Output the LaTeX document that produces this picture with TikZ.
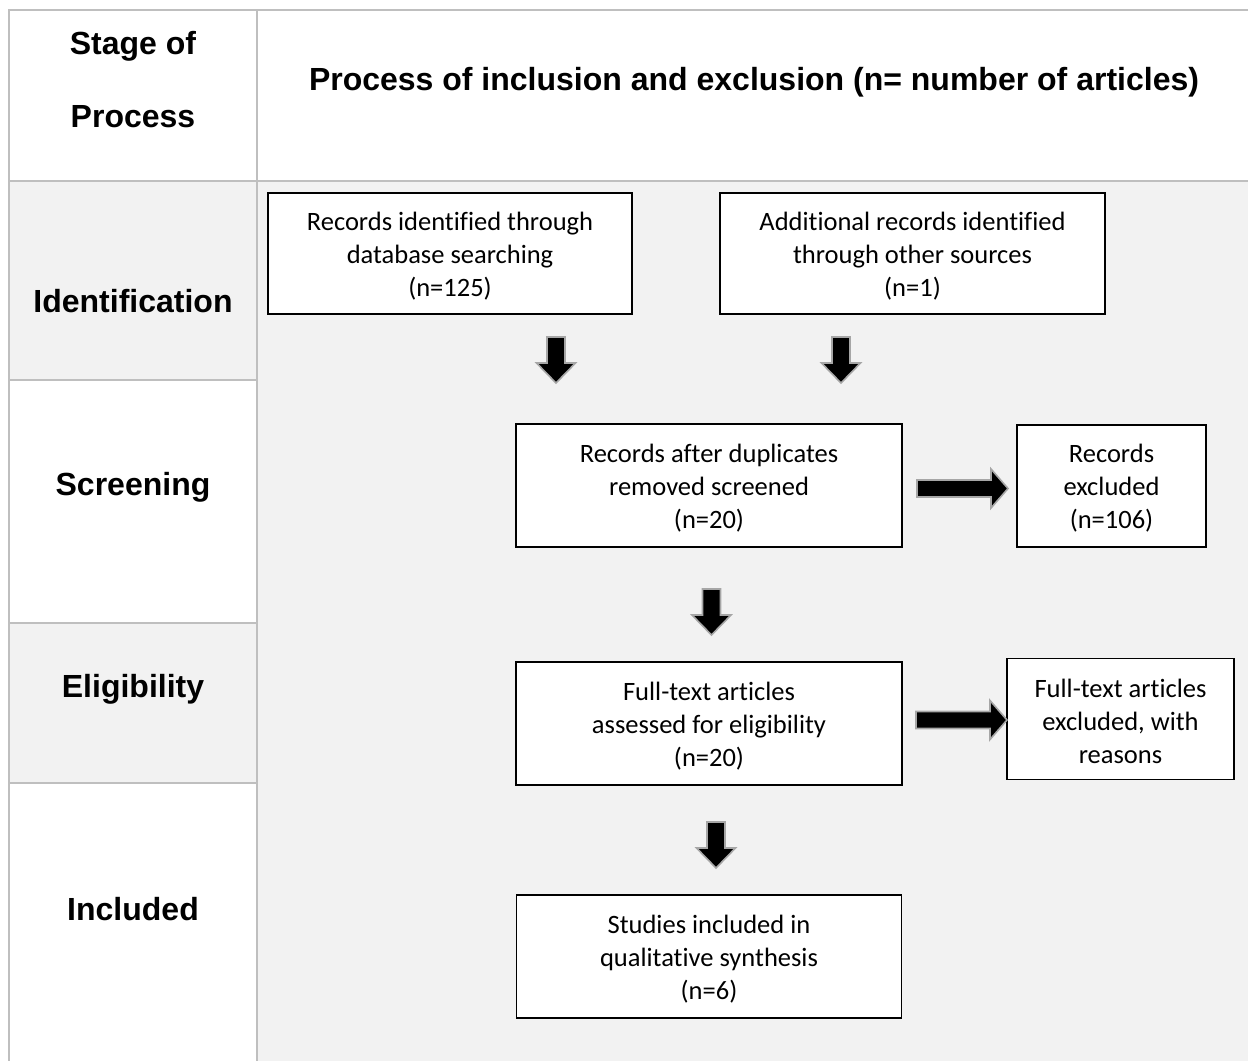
\documentclass[tikz,border=0pt]{standalone}
\usepackage{fontspec}
\setmainfont{Carlito}[Ligatures=NoCommon]
\newfontfamily\headfont{Liberation Sans}
\definecolor{rulegray}{HTML}{BFBFBF}
\definecolor{cellshade}{HTML}{F2F2F2}
\definecolor{arrowrim}{HTML}{A6A6A6}
% a boxed step of the flow: name, centre, width, height, text
\newcommand\flowstep[5]{%
  \node[flowbox,minimum width=#3,minimum height=#4,
        label={[flowtext]center:{#5}}] (#1) at (#2) {};}
\begin{document}
\begin{tikzpicture}[x=1pt,y=-1pt,
  gridline/.style={draw=rulegray,line width=2pt},
  stage/.style={font=\headfont\bfseries\fontsize{32}{38}\selectfont,align=center,inner sep=0pt},
  flowbox/.style={draw=black,fill=white,line width=1.6pt,inner sep=0pt},
  flowtext/.style={align=center,inner sep=0pt,yshift=-2.5pt,
    font=\fontsize{26.5}{33}\selectfont},
  blockarrow/.style={fill=black,draw=arrowrim,line width=1.6pt,line join=miter},
  pics/downarrow/.style={code={
    \path[blockarrow] (-9,0) -- (9,0) -- (9,26) -- (19.5,26) -- (0,46)
      -- (-19.5,26) -- (-9,26) -- cycle;}},
  pics/rightarrow/.style={code={
    \path[blockarrow] (0,-8.5) -- (74,-8.5) -- (74,-19.5) -- (91,0)
      -- (74,19.5) -- (74,8.5) -- (0,8.5) -- cycle;}},
]
\useasboundingbox (0,0) rectangle (1248,1061);

% table background
\fill[white] (0,0) rectangle (1248,1061);
\fill[cellshade] (257,181) rectangle (1248,1061);
\fill[cellshade] (9,181) rectangle (257,380);
\fill[cellshade] (9,623) rectangle (257,783);

% table rules
\draw[gridline] (8,10) -- (1248,10);
\draw[gridline] (8,181) -- (1248,181);
\draw[gridline] (9,10) -- (9,1061);
\draw[gridline] (257,10) -- (257,1061);
\draw[gridline] (9,380) -- (257,380);
\draw[gridline] (9,623) -- (257,623);
\draw[gridline] (9,783) -- (257,783);

% stage column and heading
\node[stage,font=\headfont\bfseries\fontsize{32}{73}\selectfont] (stagehead) at (133,80) {Stage of\\Process};
\node[stage] (stident) at (133,301) {Identification};
\node[stage] (stscreen) at (133,487) {Screening};
\node[stage] (stelig) at (133,689) {Eligibility};
\node[stage] (stincl) at (133,909) {Included};
\node[stage] (prochead) at (754,82) {Process of inclusion and exclusion (n= number of articles)};

% flow boxes
\flowstep{dbsearch}{450,253.5}{364}{121}{Records identified through\\database searching\\(n=125)}
\flowstep{othersrc}{912.5,253.5}{385}{121}{Additional records identified\\through other sources\\(n=1)}
\flowstep{dedup}{709,485.5}{386}{123}{Records after duplicates\\removed screened\\(n=20)}
\flowstep{recexcl}{1111.5,486}{189}{122}{Records\\excluded\\(n=106)}
\flowstep{fulltext}{709,723.5}{386}{123}{Full-text articles\\assessed for eligibility\\(n=20)}
\flowstep{ftexcl}{1120.5,719}{227}{121}{Full-text articles\\excluded, with\\reasons}
\flowstep{included}{709,956.5}{385}{123}{Studies included in\\qualitative synthesis\\(n=6)}

% block arrows
\pic at (556,337) {downarrow};
\pic at (841,337) {downarrow};
\pic at (711.5,589) {downarrow};
\pic at (716,822) {downarrow};
\pic at (917,488.5) {rightarrow};
\pic at (916,720) {rightarrow};
\end{tikzpicture}
\end{document}
